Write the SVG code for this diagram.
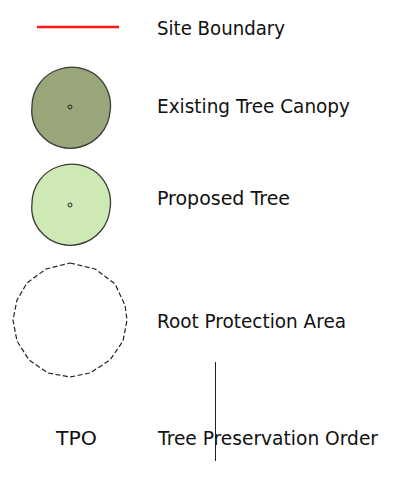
<svg xmlns="http://www.w3.org/2000/svg" width="405" height="477" viewBox="0 0 405 477">
<style>
text{font-family:"DejaVu Sans","Liberation Sans",sans-serif;font-size:20px;fill:#111}
.canopy{stroke:#3a3a3a;stroke-width:1.3}
.dot{fill:none;stroke:#222;stroke-width:1}
</style>
<rect width="405" height="477" fill="#fff"/>
<g id="site-boundary">
<line x1="37" y1="27" x2="119" y2="27" stroke="#ff1a1a" stroke-width="2.5"/>
<text x="157" y="35" textLength="128" lengthAdjust="spacingAndGlyphs">Site Boundary</text>
</g>
<g id="existing-tree">
<path class="canopy" fill="#98a67a" d="M 32,106 A 39 39 0 0 1 60,69 A 40 40 0 0 1 97,76 A 39 39 0 0 1 110,112 A 40 40 0 0 1 80,147 A 38 38 0 0 1 44,138 A 38 38 0 0 1 32,106 Z"/>
<circle class="dot" cx="70" cy="107" r="2"/>
<text x="157" y="113" textLength="193" lengthAdjust="spacingAndGlyphs">Existing Tree Canopy</text>
</g>
<g id="proposed-tree">
<path class="canopy" fill="#cfe9b5" d="M 32,203 A 39 39 0 0 1 60,166 A 40 40 0 0 1 97,173 A 39 39 0 0 1 110,209 A 40 40 0 0 1 80,244 A 38 38 0 0 1 44,235 A 38 38 0 0 1 32,203 Z"/>
<circle class="dot" cx="70" cy="205" r="2"/>
<text x="157" y="205" textLength="133" lengthAdjust="spacingAndGlyphs">Proposed Tree</text>
</g>
<g id="root-protection-area">
<polygon fill="none" stroke="#222" stroke-width="1.2" stroke-dasharray="5,2.5" points="70,263 95,269 115,284 125,305 127,320 123,341 110,360 90,373 70,377 48,373 29,360 17,341 13,320 17,300 27,283 46,269"/>
<text x="157" y="328" textLength="189" lengthAdjust="spacingAndGlyphs">Root Protection Area</text>
</g>
<g id="tpo">
<text x="56" y="445" textLength="41" lengthAdjust="spacingAndGlyphs">TPO</text>
<text x="158" y="445" textLength="220" lengthAdjust="spacingAndGlyphs">Tree Preservation Order</text>
</g>
<g id="connectors">
<line x1="215.5" y1="362" x2="215.5" y2="461" stroke="#222" stroke-width="1"/>
</g>
</svg>
